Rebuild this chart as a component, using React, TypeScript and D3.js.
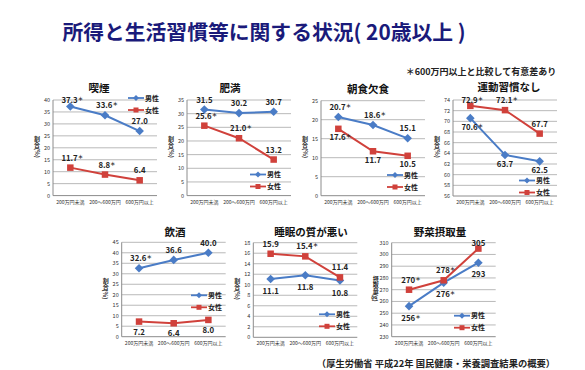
import React from "react";
import * as d3 from "d3";

const categories = ["200万円未満", "200～600万円", "600万円以上"];

const smokingMale = [37.3, 33.6, 27.0];
const smokingFemale = [11.7, 8.8, 6.4];
const smokingMaleSig = [true, true, false];
const smokingFemaleSig = [true, true, false];

const obesityMale = [31.5, 30.2, 30.7];
const obesityFemale = [25.6, 21.0, 13.2];
const obesityMaleSig = [false, false, false];
const obesityFemaleSig = [true, true, false];

const breakfastMale = [20.7, 18.6, 15.1];
const breakfastFemale = [17.6, 11.7, 10.5];
const breakfastMaleSig = [true, true, false];
const breakfastFemaleSig = [true, false, false];

const exerciseMale = [70.6, 63.7, 62.5];
const exerciseFemale = [72.9, 72.1, 67.7];
const exerciseMaleSig = [true, false, false];
const exerciseFemaleSig = [true, true, false];

const drinkingMale = [32.6, 36.6, 40.0];
const drinkingFemale = [7.2, 6.4, 8.0];
const drinkingMaleSig = [true, false, false];
const drinkingFemaleSig = [false, false, false];

const sleepMale = [11.1, 11.8, 10.8];
const sleepFemale = [15.9, 15.4, 11.4];
const sleepMaleSig = [false, false, false];
const sleepFemaleSig = [false, true, false];

const vegMale = [256, 276, 293];
const vegFemale = [270, 278, 305];
const vegMaleSig = [true, true, false];
const vegFemaleSig = [true, true, false];

const seriesNames = ["男性", "女性"];

const BLUE = "#4a7cc6";
const RED = "#d0413b";
const FONT = "'Noto Sans CJK JP', 'Noto Sans', sans-serif";

type Panel = {
  title: string;
  male: number[];
  female: number[];
  maleSig: boolean[];
  femaleSig: boolean[];
  domain: [number, number];
  step: number;
  decimals: number;
  yLabel: string;
  x0: number;
  y0: number;
  y1: number;
  titleX: number;
  titleY: number;
  legX: number;
  legY: number;
  maleBelow: boolean;
  femaleBelow: boolean;
  belowDy: number;
};

const W = 104;

const panels: Panel[] = [
  { title: "喫煙", male: smokingMale, female: smokingFemale, maleSig: smokingMaleSig, femaleSig: smokingFemaleSig,
    domain: [0, 40], step: 5, decimals: 1, yLabel: "割合(%)",
    x0: 53, y0: 100, y1: 195.6, titleX: 99, titleY: 88.5, legX: 128, legY: 98, maleBelow: false, femaleBelow: false, belowDy: 14 },
  { title: "肥満", male: obesityMale, female: obesityFemale, maleSig: obesityMaleSig, femaleSig: obesityFemaleSig,
    domain: [0, 35], step: 5, decimals: 1, yLabel: "割合(%)",
    x0: 187, y0: 100, y1: 195.6, titleX: 230, titleY: 88.5, legX: 250, legY: 174.5, maleBelow: false, femaleBelow: false, belowDy: 14 },
  { title: "朝食欠食", male: breakfastMale, female: breakfastFemale, maleSig: breakfastMaleSig, femaleSig: breakfastFemaleSig,
    domain: [0, 25], step: 5, decimals: 1, yLabel: "割合(%)",
    x0: 321, y0: 100.7, y1: 195.7, titleX: 368, titleY: 89.5, legX: 387, legY: 175, maleBelow: false, femaleBelow: true, belowDy: 11.5 },
  { title: "運動習慣なし", male: exerciseMale, female: exerciseFemale, maleSig: exerciseMaleSig, femaleSig: exerciseFemaleSig,
    domain: [56, 74], step: 2, decimals: 1, yLabel: "割合(%)",
    x0: 453, y0: 100, y1: 196, titleX: 509, titleY: 87.3, legX: 519, legY: 180.5, maleBelow: true, femaleBelow: false, belowDy: 12 },
  { title: "飲酒", male: drinkingMale, female: drinkingFemale, maleSig: drinkingMaleSig, femaleSig: drinkingFemaleSig,
    domain: [0, 45], step: 5, decimals: 1, yLabel: "割合(%)",
    x0: 121.7, y0: 242.3, y1: 336.7, titleX: 175, titleY: 232, legX: 191, legY: 295.3, maleBelow: false, femaleBelow: true, belowDy: 13 },
  { title: "睡眠の質が悪い", male: sleepMale, female: sleepFemale, maleSig: sleepMaleSig, femaleSig: sleepFemaleSig,
    domain: [0, 18], step: 2, decimals: 1, yLabel: "割合(%)",
    x0: 253.3, y0: 242.7, y1: 337.3, titleX: 311, titleY: 232, legX: 319, legY: 314.3, maleBelow: true, femaleBelow: false, belowDy: 15 },
  { title: "野菜摂取量", male: vegMale, female: vegFemale, maleSig: vegMaleSig, femaleSig: vegFemaleSig,
    domain: [230, 310], step: 10, decimals: 0, yLabel: "摂取量(g)",
    x0: 391.7, y0: 242.7, y1: 336.7, titleX: 440, titleY: 232, legX: 454, legY: 315.7, maleBelow: true, femaleBelow: false, belowDy: 14.5 },
];

function Diamond({ x, y, r }: { x: number; y: number; r: number }) {
  return <path d={`M${x},${y - r}L${x + r},${y}L${x},${y + r}L${x - r},${y}Z`} fill={BLUE} />;
}
function Square({ x, y, s }: { x: number; y: number; s: number }) {
  return <rect x={x - s / 2} y={y - s / 2} width={s} height={s} fill={RED} />;
}

function PanelChart({ p }: { p: Panel }) {
  const x = d3.scaleBand<string>().domain(categories).range([p.x0, p.x0 + W]);
  const y = d3.scaleLinear().domain(p.domain).range([p.y1, p.y0]);
  const ticks = d3.range(p.domain[0], p.domain[1] + p.step / 2, p.step);
  const cx = (c: string) => (x(c) as number) + x.bandwidth() / 2;
  const line = d3
    .line<number>()
    .x((_, i) => cx(categories[i]))
    .y((v) => y(v));
  const fmt = (v: number) => v.toFixed(p.decimals);
  const labels = (vals: number[], sig: boolean[], below: boolean) =>
    vals.map((v, i) => (
      <text
        key={i}
        x={cx(categories[i]) + (sig[i] ? 2 : 0)}
        y={below ? y(v) + p.belowDy : Math.max(y(v) - 7, p.y0 + 3.3)}
        textAnchor="middle"
        fontSize={7.8}
        fontWeight="bold"
        fill="#222"
      >
        {fmt(v)}
        {sig[i] ? (
          <tspan fontSize={5.5} dy={-2}>
            ＊
          </tspan>
        ) : null}
      </text>
    ));
  const yMid = (p.y0 + p.y1) / 2;
  const labX = p.x0 - 16;
  return (
    <g fontFamily={FONT}>
      <text x={p.titleX} y={p.titleY + 3.8} textAnchor="middle" fontSize={10.5} fontWeight="bold" fill="#111">
        {p.title}
      </text>
      {ticks.map((t) => (
        <g key={t}>
          <line x1={p.x0} x2={p.x0 + W} y1={y(t)} y2={y(t)} stroke={t === p.domain[0] ? "#8c8c8c" : "#b9b9b9"} strokeWidth={1} />
          <text x={p.x0 - 3} y={y(t) + 2} textAnchor="end" fontSize={5.5} fill="#333">
            {t}
          </text>
        </g>
      ))}
      <line x1={p.x0} x2={p.x0} y1={p.y0} y2={p.y1} stroke="#8c8c8c" strokeWidth={1} />
      {categories.map((c) => (
        <text key={c} x={cx(c)} y={p.y1 + 8} textAnchor="middle" fontSize={5} fill="#333">
          {c}
        </text>
      ))}
      <text
        x={labX}
        y={yMid - 1}
        textAnchor="middle"
        fontSize={6}
        fontWeight="bold"
        fill="#222"
        style={{ writingMode: "vertical-rl" as any }}
      >
        {p.yLabel}
      </text>
      <path d={line(p.male) as string} fill="none" stroke={BLUE} strokeWidth={2} />
      <path d={line(p.female) as string} fill="none" stroke={RED} strokeWidth={2} />
      {p.male.map((v, i) => (
        <Diamond key={i} x={cx(categories[i])} y={y(v)} r={4.3} />
      ))}
      {p.female.map((v, i) => (
        <Square key={i} x={cx(categories[i])} y={y(v)} s={6.5} />
      ))}
      {labels(p.male, p.maleSig, p.maleBelow)}
      {labels(p.female, p.femaleSig, p.femaleBelow)}
      <line x1={p.legX} x2={p.legX + 16} y1={p.legY} y2={p.legY} stroke={BLUE} strokeWidth={1.8} />
      <Diamond x={p.legX + 8} y={p.legY} r={3} />
      <text x={p.legX + 17} y={p.legY + 2.5} fontSize={7} fontWeight="bold" fill="#222">
        {seriesNames[0]}
      </text>
      <line x1={p.legX} x2={p.legX + 16} y1={p.legY + 12} y2={p.legY + 12} stroke={RED} strokeWidth={1.8} />
      <Square x={p.legX + 8} y={p.legY + 12} s={5} />
      <text x={p.legX + 17} y={p.legY + 14.5} fontSize={7} fontWeight="bold" fill="#222">
        {seriesNames[1]}
      </text>
    </g>
  );
}

export default function App() {
  return (
    <svg
      width={585}
      height={370}
      viewBox="0 0 585 370"
      style={{ position: "absolute", left: 0, top: 0, background: "#fff" }}
      fontFamily={FONT}
    >
      <rect width={585} height={370} fill="#fff" />
      <text x={264} y={40} textAnchor="middle" fontSize={20.8} fontWeight="bold" fill="#1a1a7a">
        所得と生活習慣等に関する状況( 20歳以上 )
      </text>
      <text x={481} y={75} textAnchor="middle" fontSize={9} fontWeight="bold" fill="#222">
        ＊600万円以上と比較して有意差あり
      </text>
      {panels.map((p) => (
        <PanelChart key={p.title} p={p} />
      ))}
      <text x={436} y={367} textAnchor="middle" fontSize={9.3} fontWeight="bold" fill="#222">
        （厚生労働省 平成22年 国民健康・栄養調査結果の概要）
      </text>
    </svg>
  );
}
